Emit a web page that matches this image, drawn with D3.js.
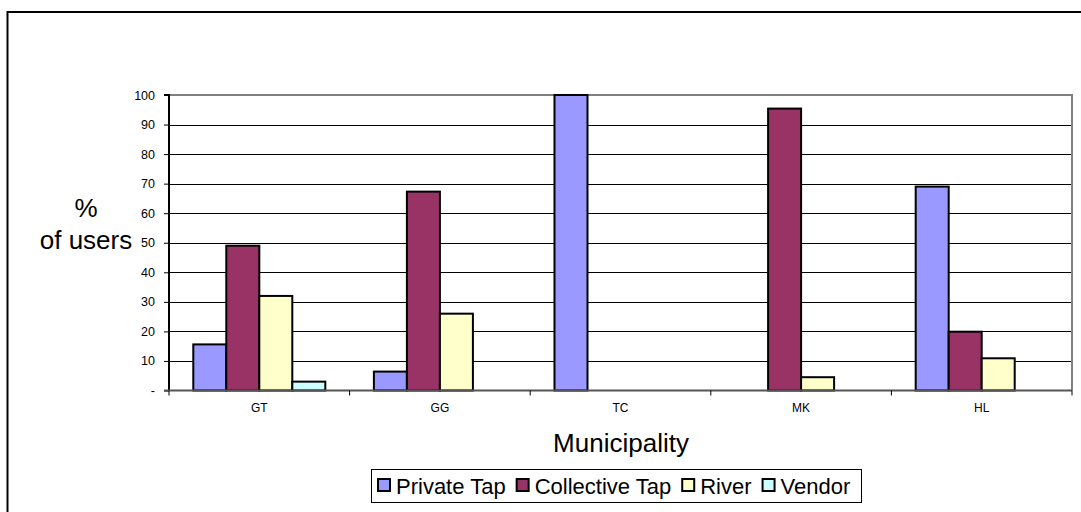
<!DOCTYPE html>
<html>
<head>
<meta charset="utf-8">
<script src="https://cdn.jsdelivr.net/npm/d3@7"></script>
<style>
	body { margin: 0; background: #fff; }
	svg { display: block; font-family: Arial, "Liberation Sans", sans-serif; }
</style>
</head>
<body>
<svg width="1081" height="512"></svg>
<script>
var categories = ['GT', 'GG', 'TC', 'MK', 'HL'];
var seriesNames = ['Private Tap', 'Collective Tap', 'River', 'Vendor'];
var seriesColors = ['#9999ff', '#993366', '#ffffcc', '#ccffff'];
var privateTap = [15.6, 6.4, 100, 0, 69];
var collectiveTap = [49, 67.3, 0, 95.4, 19.9];
var river = [32, 26, 0, 4.5, 10.9];
var vendor = [3, 0, 0, 0, 0];
var yTicks = [0, 10, 20, 30, 40, 50, 60, 70, 80, 90, 100];

var seriesValues = [privateTap, collectiveTap, river, vendor];

function renderChart() {
	var svg = d3.select('svg');
	var plot = {left: 169, right: 1072, top: 95, bottom: 390.5};

	svg.append('rect')
		.attr('width', 1081).attr('height', 512)
		.style('fill', '#fff');

	// outer chart frame, runs off the right and bottom edges
	svg.append('rect')
		.attr('x', 7.5).attr('y', 12)
		.attr('width', 1100).attr('height', 520)
		.style('fill', 'none')
		.style('stroke', '#000')
		.style('stroke-width', '2px');

	var y = d3.scaleLinear().domain([0, 100]).range([plot.bottom, plot.top]);
	var x0 = d3.scaleBand().domain(categories).range([plot.left, plot.right]);
	var x1 = d3.scaleBand().domain(seriesNames)
		.range([0, x0.bandwidth()])
		.paddingInner(0)
		.paddingOuter(0.736);

	// gridlines
	svg.append('g')
		.selectAll('line')
		.data(yTicks.filter(function(d) { return d > 0 && d < 100; }))
		.join('line')
		.attr('x1', plot.left).attr('x2', plot.right)
		.attr('y1', function(d) { return Math.round(y(d)) + 0.5; })
		.attr('y2', function(d) { return Math.round(y(d)) + 0.5; })
		.style('stroke', '#000')
		.style('stroke-width', '1px');

	// plot border top/right
	svg.append('path')
		.attr('d', 'M' + plot.left + ',' + plot.top + 'H' + plot.right + 'V' + plot.bottom)
		.style('fill', 'none')
		.style('stroke', '#808080')
		.style('stroke-width', '2px');

	// bars
	var groups = svg.append('g').selectAll('g')
		.data(categories)
		.join('g')
		.attr('transform', function(d) { return 'translate(' + x0(d) + ',0)'; });

	groups.selectAll('rect')
		.data(function(d, i) {
			return seriesNames.map(function(s, k) {
				return {series: s, value: seriesValues[k][i], color: seriesColors[k]};
			}).filter(function(e) { return e.value > 0; });
		})
		.join('rect')
		.attr('x', function(d) { return x1(d.series); })
		.attr('y', function(d) { return y(d.value); })
		.attr('width', x1.bandwidth())
		.attr('height', function(d) { return y(0) - y(d.value); })
		.style('fill', function(d) { return d.color; })
		.style('stroke', '#000')
		.style('stroke-width', '2px');

	// y axis
	var yAxis = d3.axisLeft(y)
		.tickValues(yTicks)
		.tickSize(5)
		.tickPadding(9)
		.tickFormat(function(d) { return d === 0 ? '-' : d; });
	var gy = svg.append('g')
		.attr('transform', 'translate(' + plot.left + ',0)')
		.call(yAxis);
	gy.select('.domain').attr('d', 'M-5,' + plot.top + 'H0V' + plot.bottom)
		.style('stroke', '#000').style('stroke-width', '2px');
	gy.selectAll('.tick line').style('stroke', '#000');
	gy.selectAll('.tick text')
		.style('font-size', '12.5px')
		.style('font-family', 'Arial, "Liberation Sans", sans-serif')
		.style('fill', '#000');

	// x axis
	var gx = svg.append('g');
	gx.append('line')
		.attr('x1', plot.left - 5).attr('x2', plot.right)
		.attr('y1', plot.bottom).attr('y2', plot.bottom)
		.style('stroke', '#555')
		.style('stroke-width', '2px');
	gx.selectAll('.sep')
		.data(categories.concat(['end']))
		.join('line')
		.attr('class', 'sep')
		.attr('x1', function(d) { return d === 'end' ? plot.right : x0(d); })
		.attr('x2', function(d) { return d === 'end' ? plot.right : x0(d); })
		.attr('y1', plot.bottom).attr('y2', plot.bottom + 5)
		.style('stroke', '#000')
		.style('stroke-width', '1px');
	gx.selectAll('.cat')
		.data(categories)
		.join('text')
		.attr('class', 'cat')
		.attr('x', function(d) { return x0(d) + x0.bandwidth() / 2; })
		.attr('y', 412)
		.attr('text-anchor', 'middle')
		.style('font-size', '12px')
		.text(function(d) { return d; });

	// axis titles
	svg.append('text')
		.attr('x', 621).attr('y', 452)
		.attr('text-anchor', 'middle')
		.style('font-size', '26px')
		.text('Municipality');
	svg.append('text')
		.attr('x', 86).attr('y', 217)
		.attr('text-anchor', 'middle')
		.style('font-size', '26px')
		.text('%');
	svg.append('text')
		.attr('x', 86).attr('y', 249)
		.attr('text-anchor', 'middle')
		.style('font-size', '26px')
		.text('of users');

	// legend
	var legend = svg.append('g');
	legend.append('rect')
		.attr('x', 371.5).attr('y', 469.5)
		.attr('width', 490).attr('height', 33)
		.style('fill', '#fff')
		.style('stroke', '#000')
		.style('stroke-width', '1px');
	var lx = 378;
	seriesNames.forEach(function(name, k) {
		legend.append('rect')
			.attr('x', lx).attr('y', 479)
			.attr('width', 12).attr('height', 12)
			.style('fill', seriesColors[k])
			.style('stroke', '#000')
			.style('stroke-width', '2px');
		var t = legend.append('text')
			.attr('x', lx + 18).attr('y', 494)
			.style('font-size', '22px')
			.text(name);
		lx += 18 + t.node().getComputedTextLength() + 11;
	});
}

renderChart();
</script>
</body>
</html>
